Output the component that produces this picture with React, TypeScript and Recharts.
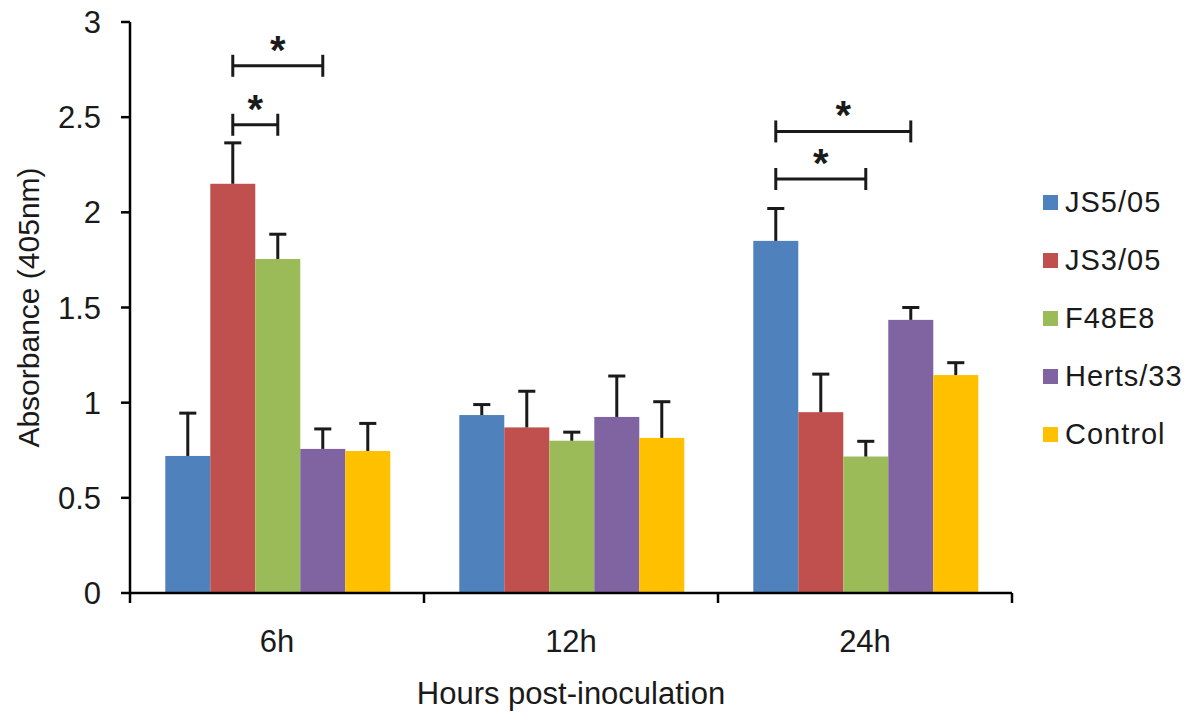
import React from "react";
import { BarChart, Bar, XAxis, YAxis, Legend } from "recharts";

const categories = ["6h", "12h", "24h"];
const seriesNames = ["JS5/05", "JS3/05", "F48E8", "Herts/33", "Control"];
const seriesColors = ["#4F81BD", "#C0504D", "#9BBB59", "#8064A2", "#FFC000"];

// mean absorbance per strain, one value per time point
const js505 = [0.72, 0.935, 1.85];
const js305 = [2.15, 0.87, 0.95];
const f48e8 = [1.755, 0.8, 0.717];
const herts33 = [0.757, 0.925, 1.435];
const control = [0.746, 0.815, 1.145];

// upper error (SD) per strain
const js505Err = [0.225, 0.055, 0.17];
const js305Err = [0.215, 0.19, 0.2];
const f48e8Err = [0.13, 0.045, 0.08];
const herts33Err = [0.105, 0.215, 0.065];
const controlErr = [0.145, 0.19, 0.065];

const yTicks = [0, 0.5, 1, 1.5, 2, 2.5, 3];

// significance brackets: category, from series, to series, height
const sigCategory = ["6h", "6h", "24h", "24h"];
const sigFrom = [1, 1, 0, 0];
const sigTo = [3, 2, 3, 2];
const sigLevel = [2.77, 2.46, 2.425, 2.175];

const values = [js505, js305, f48e8, herts33, control];
const errs = [js505Err, js305Err, f48e8Err, herts33Err, controlErr];

const data = categories.map((name, i) => {
  const row: any = { name };
  values.forEach((v, s) => {
    row["s" + s] = v[i];
    row["e" + s] = errs[s][i];
  });
  return row;
});

const FONT = "'Liberation Sans', Arial, sans-serif";
const INK = "#1a1a1a";

function makeShape(si: number) {
  return (props: any) => {
    const { x, y, width, height, payload, fill } = props;
    const v = payload["s" + si];
    const ppu = v ? height / v : 0;
    const base = y + height;
    const cx = x + width / 2;
    const errTop = y - payload["e" + si] * ppu;
    const capW = width * 0.38;
    const marks = sigCategory
      .map((c, k) => ({ c, k }))
      .filter((b) => b.c === payload.name && sigFrom[b.k] === si);
    return (
      <g>
        <rect x={x} y={y} width={width} height={height} fill={fill} />
        <line x1={cx} x2={cx} y1={y} y2={errTop} stroke={INK} strokeWidth={3} />
        <line x1={cx - capW / 2} x2={cx + capW / 2} y1={errTop} y2={errTop} stroke={INK} strokeWidth={3} />
        {marks.map(({ k }) => {
          const ly = base - sigLevel[k] * ppu;
          const x2 = cx + (sigTo[k] - si) * width;
          return (
            <g key={k}>
              <line x1={cx} x2={x2} y1={ly} y2={ly} stroke={INK} strokeWidth={3} />
              <line x1={cx} x2={cx} y1={ly - 11} y2={ly + 11} stroke={INK} strokeWidth={3} />
              <line x1={x2} x2={x2} y1={ly - 11} y2={ly + 11} stroke={INK} strokeWidth={3} />
              <text x={(cx + x2) / 2} y={ly - 2} textAnchor="middle" fontFamily={FONT} fontWeight="bold" fontSize={40} fill={INK}>
                *
              </text>
            </g>
          );
        })}
      </g>
    );
  };
}

const XTick = (props: any) => {
  const { x, y, payload, index } = props;
  const half = (payload && payload.offset) || 147;
  return (
    <g>
      <line x1={x - half} x2={x - half} y1={y} y2={y + 10} stroke="#000" strokeWidth={2.5} />
      {index === categories.length - 1 && (
        <line x1={x + half} x2={x + half} y1={y} y2={y + 10} stroke="#000" strokeWidth={2.5} />
      )}
      <text x={x} y={y + 59} textAnchor="middle" fontFamily={FONT} fontSize={31} fill={INK}>
        {payload.value}
      </text>
    </g>
  );
};

const renderLegend = (props: any) => {
  const items = [...(props.payload || [])].sort(
    (a: any, b: any) => seriesNames.indexOf(a.value) - seriesNames.indexOf(b.value)
  );
  return (
    <div style={{ fontFamily: FONT, fontSize: 29, color: INK, letterSpacing: 1 }}>
      {items.map((it: any) => (
        <div key={it.value} style={{ display: "flex", alignItems: "center", height: 58 }}>
          <span style={{ width: 15, height: 15, background: it.color, marginRight: 7, display: "inline-block" }} />
          {it.value}
        </div>
      ))}
    </div>
  );
};

export default function App() {
  return (
    <div style={{ position: "absolute", left: 0, top: 0, background: "#fff" }}>
      <BarChart
        width={1200}
        height={722}
        data={data}
        margin={{ top: 22, right: 26, left: 0, bottom: 0 }}
        barCategoryGap="12%"
        barGap={0}
      >
        <XAxis
          dataKey="name"
          height={129}
          tick={<XTick />}
          tickLine={false}
          tickSize={0}
          tickMargin={0}
          axisLine={{ stroke: "#000", strokeWidth: 2.5 }}
          label={{ value: "Hours post-inoculation", position: "insideBottom", offset: 18, fontFamily: FONT, fontSize: 31, fill: INK }}
        />
        <YAxis
          width={130}
          domain={[0, 3]}
          ticks={yTicks}
          interval={0}
          tickSize={9}
          tickMargin={20}
          axisLine={{ stroke: "#000", strokeWidth: 2.5 }}
          tickLine={{ stroke: "#000", strokeWidth: 2.5 }}
          tick={{ fontFamily: FONT, fontSize: 31, fill: INK }}
          label={{ value: "Absorbance (405nm)", angle: -90, position: "center", dx: -37, fontFamily: FONT, fontSize: 30, fill: INK }}
        />
        <Legend
          layout="vertical"
          align="right"
          verticalAlign="middle"
          content={renderLegend}
          wrapperStyle={{ left: 1043, top: 173, width: 162 }}
        />
        {seriesNames.map((n, i) => (
          <Bar
            key={n}
            dataKey={"s" + i}
            name={n}
            fill={seriesColors[i]}
            shape={makeShape(i)}
            isAnimationActive={false}
          />
        ))}
      </BarChart>
    </div>
  );
}
